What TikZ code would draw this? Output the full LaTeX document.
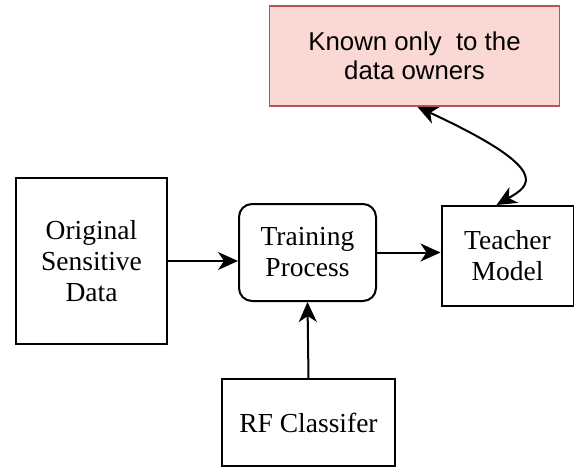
\documentclass[tikz,border=0pt]{standalone}
\usepackage{fontspec}
\setmainfont{Liberation Serif}
\setsansfont{Liberation Sans}
\usetikzlibrary{positioning,arrows.meta}
\definecolor{notefill}{HTML}{FAD9D5}
\definecolor{noteline}{HTML}{B85450}

\begin{document}
\begin{tikzpicture}[node distance=200pt]
            \tikzset{
                mybox/.style = {rectangle, line width=2pt, draw=black, fill=white, inner sep=0pt, align=center, font=\fontsize{27.5}{31}\selectfont},
                roundbox/.style = {mybox, rounded corners=13pt},
                notebox/.style = {rectangle, line width=1.8pt, draw=noteline, fill=notefill, inner sep=0pt, align=center, font=\sffamily\fontsize{25.8}{29}\selectfont},
                arrow/.style = {line width=2pt,-{Stealth[length=20pt,width=18pt,inset=6pt]}},
                twoway/.style = {line width=2pt,{Stealth[length=20pt,width=18pt,inset=6pt]}-{Stealth[length=20pt,width=18pt,inset=6pt]}}
            }
            \useasboundingbox (0,0) rectangle (574pt,-467pt);
            \node (orig) [mybox, minimum width=151pt, minimum height=166pt] at (91.5pt,-261pt) {Original\\Sensitive\\Data};
            \node (train) [roundbox, minimum width=137pt, minimum height=97pt, right of=orig, xshift=16pt, yshift=8.5pt] {Training\\Process};
            \node (teacher) [mybox, minimum width=132pt, minimum height=100pt, right of=train, yshift=-3.5pt] {Teacher\\Model};
            \node (rf) [mybox, minimum width=173pt, minimum height=87pt, below of=train, xshift=1pt, yshift=30pt] {RF Classifer};
            \node (known) [notebox, minimum width=290pt, minimum height=100pt, above of=teacher, xshift=-93pt] {Known only~ to the\\data owners};

            \draw [arrow] (orig.east) -- (orig.east -| train.west);
            \draw [arrow] (train.east) -- (train.east -| teacher.west);
            \draw [arrow] (rf.north) -- (train.south);
            \draw [twoway] ([xshift=3pt]known.south) .. controls +(138pt,-64pt) and +(33pt,19pt) .. ([xshift=-11pt]teacher.north);

        \end{tikzpicture}
\end{document}
